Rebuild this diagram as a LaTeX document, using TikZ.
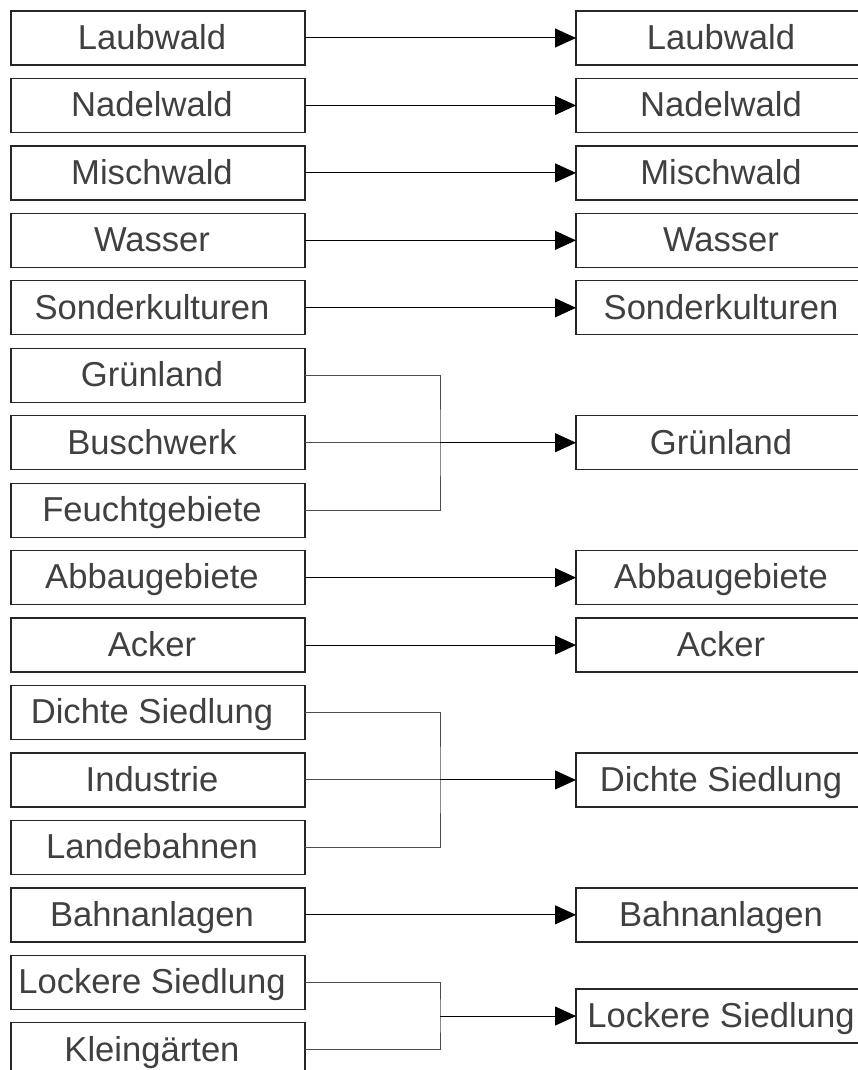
\documentclass[tikz,border=0pt]{standalone}
\usepackage{fontspec}
\setmainfont{Liberation Sans}
\usetikzlibrary{arrows.meta,positioning,calc}

\begin{document}
\begin{tikzpicture}[
  x=1pt, y=1pt,
  dstbox/.style = {rectangle, draw=black!85, line width=1.3pt,
                   outer sep=0pt, inner sep=0pt,
                   minimum width=290pt, minimum height=54pt,
                   text height=24pt, text depth=1.4pt,
                   font=\fontsize{34.6}{40}\selectfont, text=black!75},
  srcbox/.style = {dstbox, minimum width=294pt,
                   execute at end node={\hspace{12pt}}},
  arr/.style    = {-{Triangle[length=21pt,width=19pt]}, line width=1pt, black},
  joinline/.style = {line width=1pt, black!70},
  node distance = 13.45pt and 271pt,
]

\useasboundingbox (0,0) rectangle (857,-1070);

%%═══════════════════════════════════════════════════════════
%% Source classes (left column)
%%═══════════════════════════════════════════════════════════

\node[srcbox] (laub) at (158,-38) {Laubwald};
\node[srcbox, below=of laub]   (nadel)  {Nadelwald};
\node[srcbox, below=of nadel]  (misch)  {Mischwald};
\node[srcbox, below=of misch]  (wasser) {Wasser};
\node[srcbox, below=of wasser] (sonder) {Sonderkulturen};
\node[srcbox, below=of sonder] (gruen)  {Grünland};
\node[srcbox, below=of gruen]  (busch)  {Buschwerk};
\node[srcbox, below=of busch]  (feucht) {Feuchtgebiete};
\node[srcbox, below=of feucht] (abbau)  {Abbaugebiete};
\node[srcbox, below=of abbau]  (acker)  {Acker};
\node[srcbox, below=of acker]  (dicht)  {Dichte Siedlung};
\node[srcbox, below=of dicht]  (indu)   {Industrie};
\node[srcbox, below=of indu]   (lande)  {Landebahnen};
\node[srcbox, below=of lande]  (bahn)   {Bahnanlagen};
\node[srcbox, below=of bahn]   (locker) {Lockere Siedlung};
\node[srcbox, below=of locker] (klein)  {Kleingärten};

%%═══════════════════════════════════════════════════════════
%% Target classes (right column)
%%═══════════════════════════════════════════════════════════

\node[dstbox, right=of laub]   (laubT)   {Laubwald};
\node[dstbox, right=of nadel]  (nadelT)  {Nadelwald};
\node[dstbox, right=of misch]  (mischT)  {Mischwald};
\node[dstbox, right=of wasser] (wasserT) {Wasser};
\node[dstbox, right=of sonder] (sonderT) {Sonderkulturen};
\node[dstbox, right=of busch]  (gruenT)  {Grünland};
\node[dstbox, right=of abbau]  (abbauT)  {Abbaugebiete};
\node[dstbox, right=of acker]  (ackerT)  {Acker};
\node[dstbox, right=of indu]   (dichtT)  {Dichte Siedlung};
\node[dstbox, right=of bahn]   (bahnT)   {Bahnanlagen};

\coordinate (jl) at ($(locker.east)!0.5!(klein.east)+(135,0)$);
\node[dstbox, anchor=west] (lockerT) at ($(jl)+(136,0)$) {Lockere Siedlung};

%%═══════════════════════════════════════════════════════════
%% One-to-one mappings
%%═══════════════════════════════════════════════════════════

\draw[arr] (laub)   -- (laubT);
\draw[arr] (nadel)  -- (nadelT);
\draw[arr] (misch)  -- (mischT);
\draw[arr] (wasser) -- (wasserT);
\draw[arr] (sonder) -- (sonderT);
\draw[arr] (abbau)  -- (abbauT);
\draw[arr] (acker)  -- (ackerT);
\draw[arr] (bahn)   -- (bahnT);

%%═══════════════════════════════════════════════════════════
%% Merged classes
%%═══════════════════════════════════════════════════════════

\coordinate (jg) at ($(busch.east)+(135,0)$);
\draw[joinline] (gruen.east) -| (jg) |- (feucht.east);
\draw[joinline] (busch.east) -- (jg);
\draw[arr] (jg) -- (gruenT);

\coordinate (jd) at ($(indu.east)+(135,0)$);
\draw[joinline] (dicht.east) -| (jd) |- (lande.east);
\draw[joinline] (indu.east) -- (jd);
\draw[arr] (jd) -- (dichtT);

\draw[joinline] (locker.east) -| (jl) |- (klein.east);
\draw[arr] (jl) -- (lockerT);

\end{tikzpicture}
\end{document}
